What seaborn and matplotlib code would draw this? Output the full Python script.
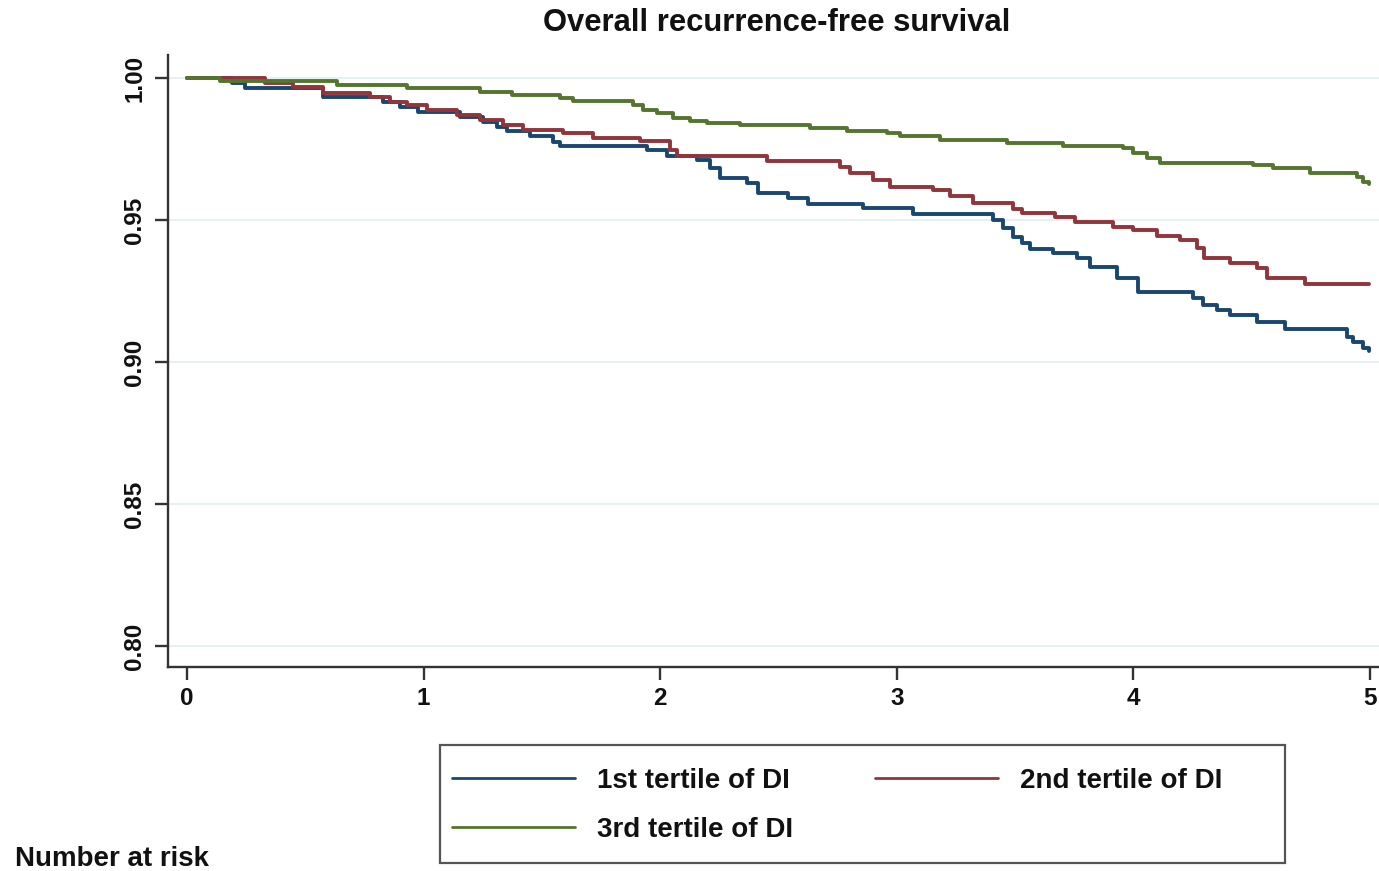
import matplotlib
matplotlib.use("Agg")
import matplotlib.pyplot as plt
import seaborn as sns
import pandas as pd
from matplotlib.patches import Rectangle

# ---- data ----
groups = ["1st tertile of DI", "2nd tertile of DI", "3rd tertile of DI"]
colors = ["#1a476f", "#90353b", "#55752f"]

blue_t = [0, 0.19, 0.245, 0.575, 0.828, 0.900, 0.976, 1.154, 1.251, 1.310, 1.352, 1.450, 1.547, 1.576,
          1.944, 2.029, 2.156, 2.210, 2.253, 2.367, 2.413, 2.540, 2.625, 2.857, 3.068, 3.407, 3.449,
          3.491, 3.529, 3.563, 3.660, 3.762, 3.817, 3.931, 4.019, 4.252, 4.294, 4.353, 4.408, 4.522,
          4.641, 4.903, 4.928, 4.970, 4.995]
blue_s = [1.0, 0.9982, 0.9964, 0.9934, 0.9917, 0.9899, 0.9881, 0.9864, 0.9846, 0.9829, 0.9813, 0.9796,
          0.9776, 0.9761, 0.9746, 0.9725, 0.9711, 0.9683, 0.9648, 0.9631, 0.9594, 0.9576, 0.9556,
          0.9541, 0.9521, 0.9500, 0.9472, 0.9441, 0.9418, 0.9398, 0.9383, 0.9365, 0.9336, 0.9295,
          0.9248, 0.9224, 0.9201, 0.9183, 0.9165, 0.9142, 0.9115, 0.9089, 0.9071, 0.9048, 0.9040]

red_t = [0, 0.330, 0.448, 0.575, 0.773, 0.858, 0.930, 1.014, 1.141, 1.238, 1.336, 1.420, 1.589, 1.716,
         1.915, 2.041, 2.071, 2.451, 2.760, 2.802, 2.899, 2.971, 3.153, 3.225, 3.322, 3.491, 3.529,
         3.669, 3.753, 3.914, 3.998, 4.100, 4.197, 4.269, 4.300, 4.408, 4.522, 4.565, 4.725, 4.995]
red_s = [1.0, 0.9981, 0.9968, 0.9948, 0.9934, 0.9917, 0.9905, 0.9887, 0.9870, 0.9852, 0.9835, 0.9817,
         0.9805, 0.9788, 0.9778, 0.9746, 0.9725, 0.9709, 0.9688, 0.9667, 0.9641, 0.9617, 0.9606,
         0.9585, 0.9561, 0.9539, 0.9525, 0.9510, 0.9494, 0.9476, 0.9465, 0.9444, 0.9430, 0.9400,
         0.9365, 0.9348, 0.9330, 0.9295, 0.9275, 0.9275]

green_t = [0, 0.139, 0.634, 0.930, 1.238, 1.374, 1.576, 1.631, 1.885, 1.927, 1.986, 2.054, 2.126,
           2.198, 2.337, 2.633, 2.789, 2.959, 3.013, 3.183, 3.466, 3.702, 3.956, 3.998, 4.057, 4.112,
           4.505, 4.590, 4.746, 4.945, 4.970, 4.995]
green_s = [1.0, 0.9990, 0.9975, 0.9964, 0.9952, 0.9940, 0.9929, 0.9920, 0.9905, 0.9887, 0.9876,
           0.9860, 0.9850, 0.9840, 0.9835, 0.9825, 0.9814, 0.9805, 0.9797, 0.9782, 0.9770, 0.9761,
           0.9752, 0.9737, 0.9717, 0.9702, 0.9694, 0.9682, 0.9664, 0.9652, 0.9635, 0.9626]

x_ticks = [0, 1, 2, 3, 4, 5]
y_ticks = [0.80, 0.85, 0.90, 0.95, 1.00]
y_tick_labels = ["0.80", "0.85", "0.90", "0.95", "1.00"]

title = "Overall recurrence-free survival"
risk_label = "Number at risk"

# ---- build long-form frame ----
frames = []
for g, t, s in zip(groups, [blue_t, red_t, green_t], [blue_s, red_s, green_s]):
    frames.append(pd.DataFrame({"time": t, "surv": s, "group": g}))
df = pd.concat(frames, ignore_index=True)

sns.set_style("ticks")
plt.rcParams["font.family"] = ["Liberation Sans", "DejaVu Sans"]

fig = plt.figure(figsize=(13.79, 8.71), dpi=100)
ax = fig.add_axes([168 / 1379, 1 - 667 / 871, 1 - 168 / 1379, (667 - 55) / 871])

sns.lineplot(data=df, x="time", y="surv", hue="group", hue_order=groups,
             palette=dict(zip(groups, colors)), drawstyle="steps-post",
             estimator=None, linewidth=2.8, ax=ax, legend=True)

ax.set_xlim(-0.08, 5.038)
ax.set_ylim(0.7926, 1.0081)
ax.set_xticks(x_ticks)
ax.set_yticks(y_ticks)
ax.set_yticklabels(y_tick_labels)
ax.set_xlabel("")
ax.set_ylabel("")

for sp in ["top", "right"]:
    ax.spines[sp].set_visible(False)
for sp in ["left", "bottom"]:
    ax.spines[sp].set_linewidth(1.7)
    ax.spines[sp].set_color("#333333")

ax.tick_params(axis="both", direction="out", length=9.5, width=1.7, color="#333333",
               labelsize=17.5, pad=5, labelcolor="#111111")
ax.tick_params(axis="y", labelrotation=90, pad=6)
for lab in ax.get_xticklabels() + ax.get_yticklabels():
    lab.set_fontweight("bold")
for lab in ax.get_yticklabels():
    lab.set_va("center")

ax.yaxis.grid(True, color="#e3eef0", linewidth=1.2)
ax.xaxis.grid(False)
ax.set_axisbelow(True)

# legend
handles, labels = ax.get_legend_handles_labels()
order = [labels.index(groups[0]), labels.index(groups[2]), labels.index(groups[1])]
h = [handles[i] for i in order]
l = [labels[i] for i in order]
leg = ax.legend(h, l, ncol=2, loc="center", bbox_to_anchor=(0.607, 0.0752),
                bbox_transform=fig.transFigure, frameon=False, borderpad=0,
                handlelength=4.42, handletextpad=0.79, columnspacing=2.95, labelspacing=0.84,
                prop={"family": ["Liberation Sans", "DejaVu Sans"], "weight": "bold",
                      "size": 20})
for line in leg.get_lines():
    line.set_linewidth(2.0)
for txt in leg.get_texts():
    txt.set_color("#111111")

fig.patches.append(Rectangle((440 / 1379, 1 - 863 / 871), 845 / 1379, 118 / 871,
                             transform=fig.transFigure, fill=False, edgecolor="#555555",
                             linewidth=1.6))

fig.text(0.563, 1 - 23 / 871, title, ha="center", va="center", fontsize=22.3,
         fontweight="bold", color="#111111")
fig.text(15 / 1379, 1 - 866 / 871, risk_label, ha="left", va="baseline", fontsize=20,
         fontweight="bold", color="#111111")

fig.savefig("out.png", dpi=100)
